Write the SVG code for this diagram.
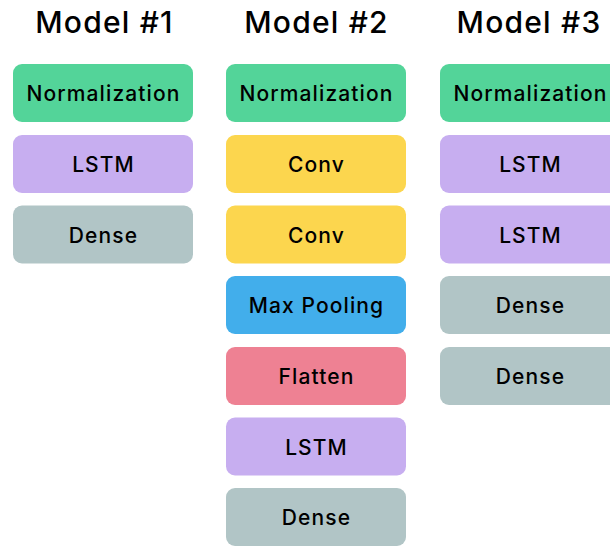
<svg xmlns="http://www.w3.org/2000/svg" width="610" height="548" viewBox="0 0 610 548">
<style>
.t{font-family:Inter,"Liberation Sans",Arial,sans-serif;font-weight:500;font-size:30px;fill:#000;text-anchor:middle;letter-spacing:1.2px}
.l{font-family:Inter,"Liberation Sans",Arial,sans-serif;font-weight:500;font-size:21px;fill:#000;text-anchor:middle;letter-spacing:1.1px}
.norm{fill:#53D499}.lstm{fill:#C7AEF0}.dense{fill:#B1C5C6}.conv{fill:#FCD64E}.pool{fill:#42AEEB}.flat{fill:#EE8193}
</style>
<rect width="610" height="548" fill="#fff"/>
<g id="titles">
<text class="t" x="104.5" y="33">Model #1</text>
<text class="t" x="316.5" y="33">Model #2</text>
<text class="t" x="529" y="33">Model #3</text>
</g>
<g id="connectors"/>
<g id="m1-norm"><rect class="norm" x="13" y="64" width="180" height="58" rx="9"/><text class="l" x="103.5" y="101">Normalization</text></g>
<g id="m1-lstm"><rect class="lstm" x="13" y="135" width="180" height="58" rx="9"/><text class="l" x="103.5" y="172">LSTM</text></g>
<g id="m1-dense"><rect class="dense" x="13" y="205.5" width="180" height="58" rx="9"/><text class="l" x="103.5" y="242.5">Dense</text></g>
<g id="m2-norm"><rect class="norm" x="226" y="64" width="180" height="58" rx="9"/><text class="l" x="316.5" y="101">Normalization</text></g>
<g id="m2-conv1"><rect class="conv" x="226" y="135" width="180" height="58" rx="9"/><text class="l" x="316.5" y="172">Conv</text></g>
<g id="m2-conv2"><rect class="conv" x="226" y="205.5" width="180" height="58" rx="9"/><text class="l" x="316.5" y="242.5">Conv</text></g>
<g id="m2-pool"><rect class="pool" x="226" y="276" width="180" height="58" rx="9"/><text class="l" x="316.5" y="313">Max Pooling</text></g>
<g id="m2-flat"><rect class="flat" x="226" y="347" width="180" height="58" rx="9"/><text class="l" x="316.5" y="384">Flatten</text></g>
<g id="m2-lstm"><rect class="lstm" x="226" y="417.5" width="180" height="58" rx="9"/><text class="l" x="316.5" y="454.5">LSTM</text></g>
<g id="m2-dense"><rect class="dense" x="226" y="488" width="180" height="58" rx="9"/><text class="l" x="316.5" y="525">Dense</text></g>
<g id="m3-norm"><rect class="norm" x="440" y="64" width="180" height="58" rx="9"/><text class="l" x="530.5" y="101">Normalization</text></g>
<g id="m3-lstm1"><rect class="lstm" x="440" y="135" width="180" height="58" rx="9"/><text class="l" x="530.5" y="172">LSTM</text></g>
<g id="m3-lstm2"><rect class="lstm" x="440" y="205.5" width="180" height="58" rx="9"/><text class="l" x="530.5" y="242.5">LSTM</text></g>
<g id="m3-dense1"><rect class="dense" x="440" y="276" width="180" height="58" rx="9"/><text class="l" x="530.5" y="313">Dense</text></g>
<g id="m3-dense2"><rect class="dense" x="440" y="347" width="180" height="58" rx="9"/><text class="l" x="530.5" y="384">Dense</text></g>
</svg>
